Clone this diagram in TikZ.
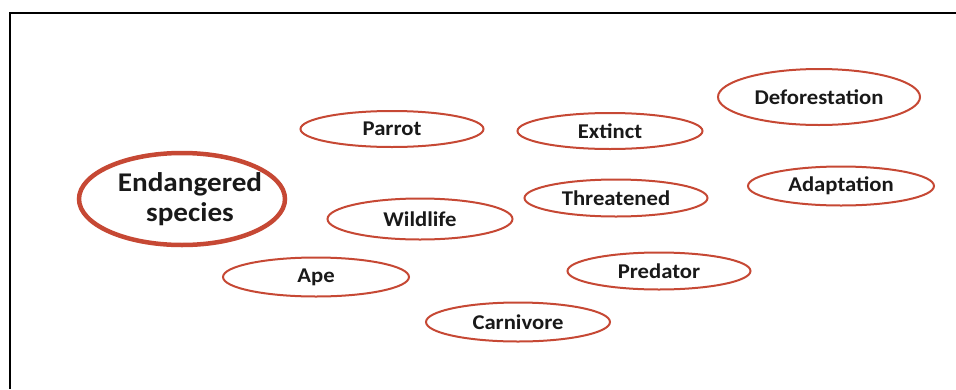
\documentclass[tikz,border=0pt]{standalone}
\usepackage{fontspec}
\setmainfont{Carlito}[FakeStretch=1.08]
\usetikzlibrary{shapes.geometric}
\definecolor{ovred}{RGB}{198,72,52}
\definecolor{txt}{RGB}{25,25,25}
\tikzset{
  term/.style={ellipse, draw=ovred, line width=2pt, inner sep=0pt, text=txt,
    font=\bfseries\fontsize{21}{23}\selectfont},
  mainterm/.style={ellipse, draw=ovred, line width=4.5pt, inner sep=0pt, text=txt,
    align=center, font=\bfseries\fontsize{27}{30}\selectfont},
}
\begin{document}
\begin{tikzpicture}[x=1pt,y=-1pt]
\useasboundingbox (0,0) rectangle (956,389);
\coordinate (fa) at (956,12.5);
\coordinate (fb) at (10,12.5);
\coordinate (fc) at (10,389);
\draw[line width=2pt] (fa) -- (fb) -- (fc);
\node[mainterm, minimum width=206pt, minimum height=92pt] (main) at (182,199) {\makebox[0pt]{\hspace*{16pt}Endangered}\\\makebox[0pt]{\hspace*{16pt}species}};
\node[term, minimum width=183pt, minimum height=36pt] (parrot) at (392,129) {Parrot};
\node[term, minimum width=185pt, minimum height=36pt] (extinct) at (610,131) {Extinct};
\node[term, minimum width=202pt, minimum height=56pt] (defor) at (819,97) {Deforestation};
\node[term, minimum width=186pt, minimum height=39pt] (adapt) at (841,186) {Adaptation};
\node[term, minimum width=183pt, minimum height=37pt] (threat) at (616,198) {Threatened};
\node[term, minimum width=185pt, minimum height=41pt] (wild) at (420,219) {Wildlife};
\node[term, minimum width=186pt, minimum height=39pt] (ape) at (316,277) {Ape};
\node[term, minimum width=183pt, minimum height=37pt] (pred) at (659,271) {Predator};
\node[term, minimum width=184pt, minimum height=39pt] (carn) at (518,322) {Carnivore};
\end{tikzpicture}
\end{document}
